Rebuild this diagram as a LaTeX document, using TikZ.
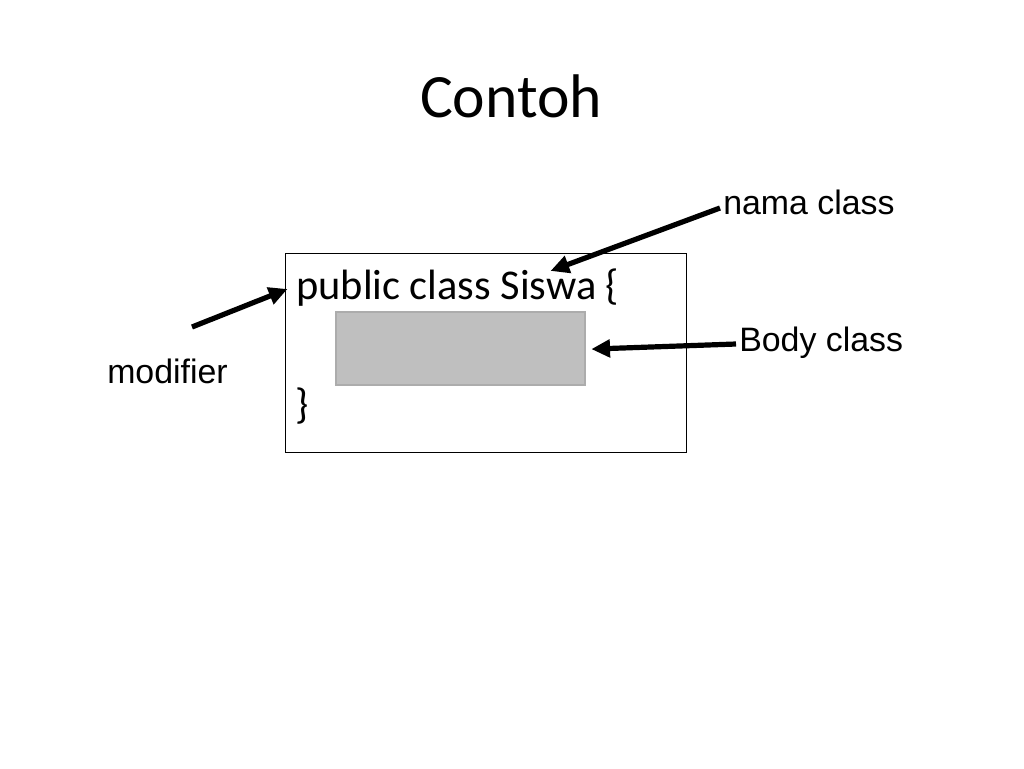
\documentclass[tikz,border=0pt]{standalone}
\usepackage{fontspec}
\setmainfont{Carlito}
\newfontfamily\arialf{Liberation Sans}
\usetikzlibrary{arrows.meta}
\begin{document}
\begin{tikzpicture}[x=0.75pt,y=-0.75pt,
  lbl/.style={font=\arialf\fontsize{25.4}{30}\selectfont, inner sep=0pt, anchor=base west},
  code/.style={font=\fontsize{31.8}{38}\selectfont, inner sep=0pt, anchor=base west},
  ptr/.style={line width=3.9pt, -{Triangle[length=14pt,width=13pt]}, shorten >=-2pt}]
\useasboundingbox (0,0) rectangle (1024,768);
\fill[white] (0,0) rectangle (1024,768);
% title
\node[font=\fontsize{46.2}{55}\selectfont, inner sep=0pt, anchor=base] (title) at (511,117) {Contoh};
% class box
\node[draw=black, line width=0.75pt, minimum width=301pt, minimum height=149pt, inner sep=0pt, anchor=north west] (box) at (285,253) {};
\node[draw={rgb,255:red,172;green,172;blue,172}, fill={rgb,255:red,191;green,191;blue,191}, line width=1.5pt, minimum width=187pt, minimum height=54.5pt, inner sep=0pt, anchor=north west] (body) at (335,311) {};
\node[code] (decl) at (296,299) {public class Siswa \{};
\node[code] (close) at (295,418) {\}};
% labels
\node[lbl] (nama) at (723,214) {nama class};
\node[lbl] (bodyl) at (739,351) {Body class};
\node[lbl] (mod) at (107,383) {modifier};
% connector points
\coordinate (modS) at (192,327);
\coordinate (modE) at (285,290);
\coordinate (namaS) at (720,208);
\coordinate (namaE) at (553,270);
\coordinate (bodyS) at (736,344);
\coordinate (bodyE) at (594,349);
\draw[ptr] (modS) -- (modE);
\draw[ptr] (namaS) -- (namaE);
\draw[ptr] (bodyS) -- (bodyE);
\end{tikzpicture}
\end{document}
